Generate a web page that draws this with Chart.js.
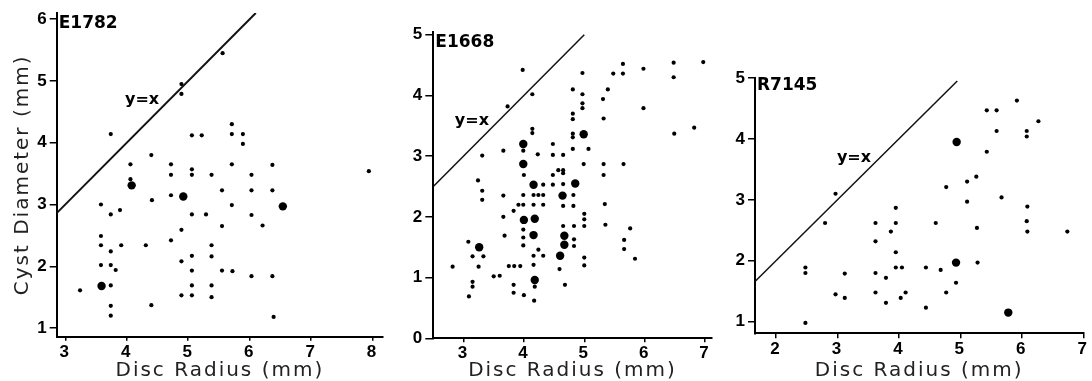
<!DOCTYPE html>
<html>
<head>
<meta charset="utf-8">
<script src="https://cdn.jsdelivr.net/npm/chart.js@4.4.1/dist/chart.umd.min.js"></script>
<style>
  html, body { margin: 0; padding: 0; background: #fff; }
  #wrap { position: relative; width: 1092px; height: 381px; overflow: hidden; }
  canvas { position: absolute; top: 0; }
</style>
</head>
<body>
<div id="wrap">
  <canvas id="c1" width="392" height="381" style="left:0px"></canvas>
  <canvas id="c2" width="330" height="381" style="left:392px"></canvas>
  <canvas id="c3" width="370" height="381" style="left:722px"></canvas>
</div>
<script>
// Disc radius vs cyst diameter for three specimens

// Tick labels
const xTicks1 = [3, 4, 5, 6, 7, 8];
const yTicks1 = [1, 2, 3, 4, 5, 6];
const xTicks2 = [3, 4, 5, 6, 7];
const yTicks2 = [0, 1, 2, 3, 4, 5];
const xTicks3 = [2, 3, 4, 5, 6, 7];
const yTicks3 = [1, 2, 3, 4, 5];

// E1782 - [disc radius, cyst diameter]
const e1782Small = [
  [3.24,1.61],
  [3.58,3.0],[3.58,2.49],[3.58,2.34],[3.58,2.02],
  [3.74,4.14],[3.74,2.84],[3.74,2.24],[3.74,2.02],[3.74,1.69],[3.74,1.36],[3.74,1.2],
  [3.82,1.94],[3.89,2.91],[3.91,2.34],
  [4.06,3.65],[4.06,3.41],
  [4.31,2.34],[4.40,3.80],[4.41,3.07],[4.40,1.37],
  [4.72,3.65],[4.72,3.48],[4.72,3.15],[4.72,2.42],
  [4.89,4.95],[4.89,4.79],[4.89,2.59],[4.89,2.08],[4.89,1.53],
  [5.06,4.12],[5.06,3.57],[5.06,3.48],[5.06,2.84],[5.06,2.17],[5.06,1.93],[5.06,1.69],[5.06,1.53],
  [5.22,4.12],[5.29,2.84],
  [5.38,3.48],[5.38,2.34],[5.38,2.16],[5.38,1.69],[5.38,1.50],
  [5.55,3.23],[5.55,2.65],[5.55,1.93],[5.56,5.45],
  [5.71,4.30],[5.71,4.14],[5.71,3.65],[5.71,2.99],[5.72,1.92],
  [5.89,4.14],[5.89,3.98],
  [6.03,3.48],[6.03,3.23],[6.03,2.83],[6.03,1.84],
  [6.21,2.66],
  [6.37,3.64],[6.37,3.23],[6.37,1.84],[6.39,1.18],
  [7.94,3.54]
];
const e1782Large = [[3.59,1.68],[4.08,3.31],[4.92,3.13],[6.54,2.97]];
const e1782Line = [2.86, 6.1];

// E1668
const e1668Small = [
  [2.82,1.18],[3.08,1.59],[3.09,0.69],[3.15,1.35],[3.15,0.93],[3.15,0.85],[3.25,1.18],
  [3.24,2.6],[3.31,3.01],[3.31,2.43],[3.31,2.28],[3.33,1.35],
  [3.5,1.02],[3.6,1.03],
  [3.66,3.09],[3.66,2.35],[3.66,2.0],[3.68,1.69],[3.73,3.82],
  [3.75,1.19],[3.84,1.19],[3.94,1.19],[3.83,2.1],[3.91,2.2],[3.99,2.2],
  [3.98,4.42],[3.99,3.09],[4.0,2.69],[3.99,2.36],[3.99,1.79],[3.99,1.66],[3.99,1.53],
  [3.83,0.88],[3.83,0.75],[4.0,0.71],
  [4.14,4.02],[4.14,3.45],[4.14,3.38],[4.16,2.36],[4.16,2.2],[4.16,1.36],[4.16,1.21],[4.18,0.85],[4.17,0.62],
  [4.23,3.03],[4.24,1.46],[4.32,1.36],[4.32,2.53],[4.32,2.36],[4.32,2.2],[4.24,2.36],
  [4.48,3.20],[4.48,3.02],[4.48,2.69],[4.48,2.53],[4.57,2.77],[4.65,3.02],[4.65,2.77],[4.65,2.72],
  [4.65,2.54],[4.82,2.36],[4.82,2.18],[4.65,2.18],[4.65,1.85],[4.83,1.85],[4.83,1.63],[4.83,1.52],
  [4.59,1.14],[4.68,0.88],
  [4.81,4.1],[4.81,3.70],[4.81,3.61],[4.81,3.37],[4.81,3.31],[4.81,3.12],
  [4.97,4.37],[4.97,4.02],[4.97,3.87],[4.97,3.79],[5.07,3.12],[4.99,2.87],
  [5.0,2.05],[5.0,1.96],[5.0,1.85],[5.0,1.33],[5.0,1.2],
  [5.31,3.94],[5.39,4.1],[5.32,3.62],[5.32,2.87],[5.32,2.69],[5.34,2.21],[5.35,1.87],
  [5.48,4.36],[5.64,4.36],[5.64,4.52],[5.65,2.87],[5.66,1.62],[5.66,1.47],[5.76,1.81],[5.84,1.31],
  [5.98,4.44],[5.98,3.79],[6.48,4.54],[6.48,4.3],[6.49,3.37],[6.82,3.47],[6.97,4.55]
];
const e1668Large = [
  [3.26,1.5],[3.99,3.2],[3.99,2.87],[4.0,1.95],[4.16,2.53],[4.18,1.97],[4.16,1.70],[4.18,0.96],
  [4.64,2.35],[4.85,2.55],[4.67,1.69],[4.67,1.54],[4.6,1.36],[4.99,3.36]
];
const e1668Line = [2.5, 5.0];

// R7145
const r7145Small = [
  [2.48,1.89],[2.48,1.80],[2.48,0.98],[2.80,2.62],[2.97,3.10],[2.97,1.45],[3.12,1.79],[3.12,1.39],
  [3.62,2.62],[3.62,2.32],[3.62,1.80],[3.62,1.48],[3.79,1.72],[3.79,1.31],[3.87,2.48],
  [3.95,2.87],[3.95,2.62],[3.95,2.14],[3.95,1.89],[4.05,1.89],[4.03,1.39],[4.11,1.48],
  [4.44,1.89],[4.44,1.23],[4.60,2.62],[4.68,1.85],[4.77,3.21],[4.77,1.48],[4.93,1.64],
  [5.11,3.30],[5.11,2.97],[5.26,3.38],[5.27,2.54],[5.28,1.97],
  [5.43,4.47],[5.59,4.47],[5.59,4.13],[5.43,3.79],[5.67,3.04],[5.92,4.63],
  [6.08,4.13],[6.08,4.04],[6.09,2.89],[6.08,2.65],[6.09,2.48],[6.27,4.29],[6.74,2.48]
];
const r7145Large = [[4.94,3.95],[4.93,1.97],[5.78,1.15]];
const r7145Line = [1.66, 4.95];

const toPts = arr => arr.map(p => ({ x: p[0], y: p[1] }));

const panelText = {
  id: 'panelText',
  beforeDraw(chart) {
    chart.ctx.letterSpacing = '2px';
  },
  beforeDatasetsDraw(chart) {
    chart.ctx.letterSpacing = '0px';
  },
  afterDatasetsDraw(chart, args, opts) {
    const { ctx, chartArea, scales: { x, y } } = chart;
    ctx.save();
    ctx.letterSpacing = '0px';
    ctx.fillStyle = '#000';
    ctx.font = 'bold 17px "DejaVu Sans"';
    ctx.textAlign = 'left';
    ctx.textBaseline = 'alphabetic';
    ctx.fillText(opts.name, chartArea.left + 2, chartArea.top + opts.nameDy);
    ctx.font = 'bold 16px "DejaVu Sans"';
    ctx.textAlign = 'center';
    ctx.textBaseline = 'middle';
    ctx.fillText('y=x', x.getPixelForValue(opts.tx), y.getPixelForValue(opts.ty));
    ctx.restore();
  }
};

function makePanel(id, p) {
  new Chart(document.getElementById(id), {
    type: 'scatter',
    data: {
      datasets: [
        { data: toPts(p.small), pointRadius: 2.1, backgroundColor: '#000', borderWidth: 0 },
        { data: toPts(p.large), pointRadius: 4.2, backgroundColor: '#000', borderWidth: 0 },
        {
          data: p.line.map(v => ({ x: v, y: v })), showLine: true,
          borderColor: '#111', borderWidth: p.lineW, pointRadius: 0
        }
      ]
    },
    options: {
      responsive: false,
      animation: false,
      devicePixelRatio: 1,
      layout: { padding: { top: p.padTop, right: p.padRight, left: 0, bottom: 0 } },
      plugins: {
        legend: { display: false },
        tooltip: { enabled: false },
        panelText: { name: p.name, nameDy: p.nameDy, tx: p.tx, ty: p.ty }
      },
      scales: {
        x: {
          type: 'linear', min: p.xMin, max: p.xMax,
          afterBuildTicks: s => { s.ticks = p.xTicks.map(v => ({ value: v })); },
          afterFit: s => { s.height = p.xAxisH; },
          grid: { drawOnChartArea: false, drawTicks: true, tickLength: p.xTickLen, color: '#000', lineWidth: 1.5 },
          border: { color: '#000', width: 2 },
          ticks: { color: '#000', padding: 1, maxRotation: 0, font: { family: 'Liberation Sans', size: 17, weight: 'bold' } },
          title: {
            display: true, text: 'Disc Radius (mm)', color: '#222',
            font: { family: 'DejaVu Sans', size: 20, lineHeight: 1 },
            padding: { top: p.xTitlePad, bottom: 0 }
          }
        },
        y: {
          type: 'linear', min: p.yMin, max: p.yMax,
          afterBuildTicks: s => { s.ticks = p.yTicks.map(v => ({ value: v })); },
          afterFit: s => { s.width = p.yAxisW; },
          grid: { drawOnChartArea: false, drawTicks: true, tickLength: p.yTickLen, color: '#000', lineWidth: 1.5 },
          border: { color: '#000', width: 2 },
          ticks: { color: '#000', padding: 1, font: { family: 'Liberation Sans', size: 17, weight: 'bold' } },
          title: {
            display: p.yTitle, text: 'Cyst Diameter (mm)', color: '#222',
            font: { family: 'DejaVu Sans', size: 20, lineHeight: 1 },
            padding: { top: 13, bottom: 0 }
          }
        }
      }
    },
    plugins: [panelText]
  });
}

makePanel('c1', {
  name: 'E1782', nameDy: 15, tx: 4.25, ty: 4.69,
  small: e1782Small, large: e1782Large, line: e1782Line, lineW: 2,
  xMin: 2.86, xMax: 8.17, yMin: 0.86, yMax: 6.1, xTicks: xTicks1, yTicks: yTicks1,
  padTop: 13, padRight: 9, yAxisW: 56.7, xAxisH: 44.3, xTickLen: 4, yTickLen: 7,
  xTitlePad: 1, yTitle: true
});

makePanel('c2', {
  name: 'E1668', nameDy: 15, tx: 3.14, ty: 3.58,
  small: e1668Small, large: e1668Large, line: e1668Line, lineW: 1.5,
  xMin: 2.5, xMax: 7.11, yMin: 0, yMax: 5.05, xTicks: xTicks2, yTicks: yTicks2,
  padTop: 31.7, padRight: 10.3, yAxisW: 41.3, xAxisH: 42.7, xTickLen: 4, yTickLen: 8,
  xTitlePad: 5, yTitle: false
});

makePanel('c3', {
  name: 'R7145', nameDy: 12, tx: 3.27, ty: 3.69,
  small: r7145Small, large: r7145Large, line: r7145Line, lineW: 1.5,
  xMin: 1.66, xMax: 7.0, yMin: 0.81, yMax: 5.0, xTicks: xTicks3, yTicks: yTicks3,
  padTop: 78, padRight: 8.7, yAxisW: 33, xAxisH: 47.7, xTickLen: 5, yTickLen: 7,
  xTitlePad: 2, yTitle: false
});
</script>
</body>
</html>
